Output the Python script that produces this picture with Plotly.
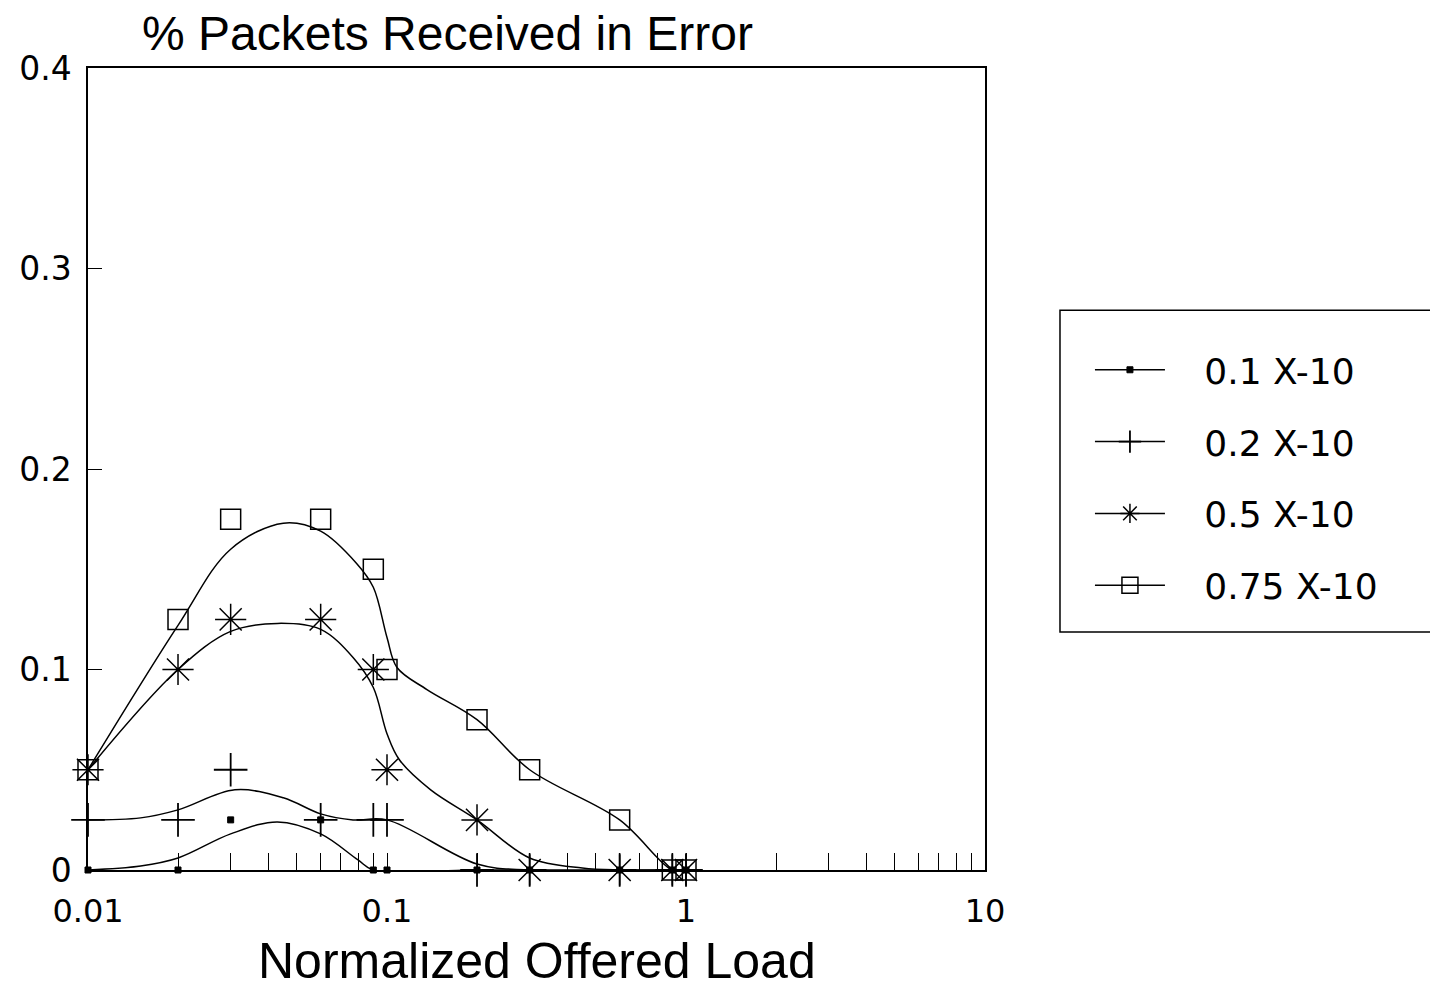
import plotly.graph_objects as go

# ---- data ----
load = [0.01, 0.02, 0.03, 0.06, 0.09, 0.1, 0.2, 0.3, 0.6, 0.9, 1.0]
err_01 = [0.0, 0.0, 0.025, 0.025, 0.0, 0.0, 0.0, 0.0, 0.0, 0.0, 0.0]
err_02 = [0.025, 0.025, 0.05, 0.025, 0.025, 0.025, 0.0, 0.0, 0.0, 0.0, 0.0]
err_05 = [0.05, 0.1, 0.125, 0.125, 0.1, 0.05, 0.025, 0.0, 0.0, 0.0, 0.0]
err_075 = [0.05, 0.125, 0.175, 0.175, 0.15, 0.1, 0.075, 0.05, 0.025, 0.0, 0.0]

# fitted (smoothed) curves as drawn in the picture
fit01_x = [0.01, 0.015, 0.02, 0.03, 0.043, 0.06, 0.08, 0.09, 0.2, 1.0]
fit01_y = [0.0, 0.002, 0.006, 0.018, 0.024, 0.018, 0.005, 0.0, 0.0, 0.0]
fit02_x = [0.01, 0.015, 0.02, 0.031, 0.045, 0.06, 0.077, 0.1, 0.2, 0.3, 1.0]
fit02_y = [0.025, 0.026, 0.03, 0.040, 0.036, 0.028, 0.025, 0.025, 0.003, 0.0, 0.0]
fit05_x = [0.01, 0.02, 0.03, 0.043, 0.06, 0.077, 0.09, 0.1, 0.11, 0.14, 0.2, 0.3, 0.45, 0.6, 1.0]
fit05_y = [0.05, 0.1, 0.119, 0.123, 0.12, 0.106, 0.091, 0.068, 0.055, 0.04, 0.025, 0.006, 0.001, 0.0, 0.0]
fit075_x = [0.01, 0.02, 0.03, 0.045, 0.06, 0.079, 0.09, 0.1, 0.108, 0.136, 0.2, 0.3, 0.6, 0.9, 1.0]
fit075_y = [0.05, 0.122, 0.16, 0.173, 0.169, 0.153, 0.141, 0.116, 0.101, 0.09, 0.075, 0.05, 0.025, 0.0, 0.0]

names = ["0.1 X-10", "0.2 X-10", "0.5 X-10", "0.75 X-10"]
x_tickvals = [0.01, 0.02, 0.03, 0.04, 0.05, 0.06, 0.07, 0.08, 0.09,
              0.1, 0.2, 0.3, 0.4, 0.5, 0.6, 0.7, 0.8, 0.9,
              1, 2, 3, 4, 5, 6, 7, 8, 9, 10]
x_ticktext = ["0.01", "", "", "", "", "", "", "", "",
              "0.1", "", "", "", "", "", "", "", "",
              "1", "", "", "", "", "", "", "", "", "10"]
y_tickvals = [0, 0.1, 0.2, 0.3, 0.4]
y_ticktext = ["0", "0.1", "0.2", "0.3", "0.4"]

series = [
    (err_01, fit01_x, fit01_y, dict(symbol="square", size=6, color="black",
                                    line=dict(color="black", width=1))),
    (err_02, fit02_x, fit02_y, dict(symbol="cross-thin-open", size=24, color="black",
                                    line=dict(color="black", width=1.8))),
    (err_05, fit05_x, fit05_y, dict(symbol="asterisk-open", size=26, color="black",
                                    line=dict(color="black", width=1.5))),
    (err_075, fit075_x, fit075_y, dict(symbol="square-open", size=20, color="black",
                                       line=dict(color="black", width=1.5))),
]

fig = go.Figure()
for i, (ys, fx, fy, mk) in enumerate(series):
    fig.add_trace(go.Scatter(x=fx, y=fy, mode="lines",
                             line=dict(color="black", width=1.5, shape="spline", smoothing=1.0),
                             showlegend=False, hoverinfo="skip"))
    fig.add_trace(go.Scatter(x=load, y=ys, mode="markers", marker=mk, showlegend=False, cliponaxis=False))
    fig.add_trace(go.Scatter(x=[None], y=[None], mode="lines+markers",
                             name="\u00a0\u00a0\u00a0" + names[i],
                             legendgroup=f"g{i}",
                             line=dict(color="black", width=1.5), marker=mk))

# page offset of 8px (browser body margin) is compensated in size/margins
fig.update_layout(
    width=1430, height=981,
    paper_bgcolor="white", plot_bgcolor="white",
    margin=dict(l=80, r=453, t=60, b=119),
    font=dict(family="DejaVu Sans", color="black"),
    showlegend=True,
    legend=dict(x=1.117, y=0.661, xanchor="left", yanchor="top",
                borderwidth=0, bgcolor="rgba(0,0,0,0)",
                font=dict(family="DejaVu Sans", size=36, color="black"),
                tracegroupgap=22, itemwidth=70),
    shapes=[dict(type="rect", xref="paper", yref="paper",
                 x0=1.0836, x1=1.53, y0=0.2968, y1=0.698,
                 line=dict(color="black", width=1.5), fillcolor="rgba(0,0,0,0)", layer="below")],
    xaxis=dict(type="log", range=[-2, 1], tickvals=x_tickvals, ticktext=x_ticktext,
               ticks="inside", ticklen=17, tickwidth=1.2, tickcolor="black",
               showline=True, linecolor="black", linewidth=1.5, mirror=True,
               showgrid=False, zeroline=False, ticklabelstandoff=12,
               tickfont=dict(family="DejaVu Sans", size=32, color="black")),
    yaxis=dict(range=[0, 0.4], tickvals=y_tickvals, ticktext=y_ticktext,
               ticks="inside", ticklen=14, tickwidth=1.2, tickcolor="black",
               showline=True, linecolor="black", linewidth=1.5, mirror=True,
               showgrid=False, zeroline=False, ticklabelstandoff=8,
               tickfont=dict(family="DejaVu Sans", size=33, color="black")),
    annotations=[
        dict(text="% Packets Received in Error", xref="paper", yref="paper",
             x=0.058, y=1.0436, xanchor="left", yanchor="middle", showarrow=False,
             font=dict(family="Liberation Sans", size=48, color="black")),
        dict(text="Normalized Offered Load", xref="paper", yref="paper",
             x=0.5, y=-0.1135, xanchor="center", yanchor="middle", showarrow=False,
             font=dict(family="Liberation Sans", size=50, color="black")),
    ],
)

fig.write_html("out.html")
